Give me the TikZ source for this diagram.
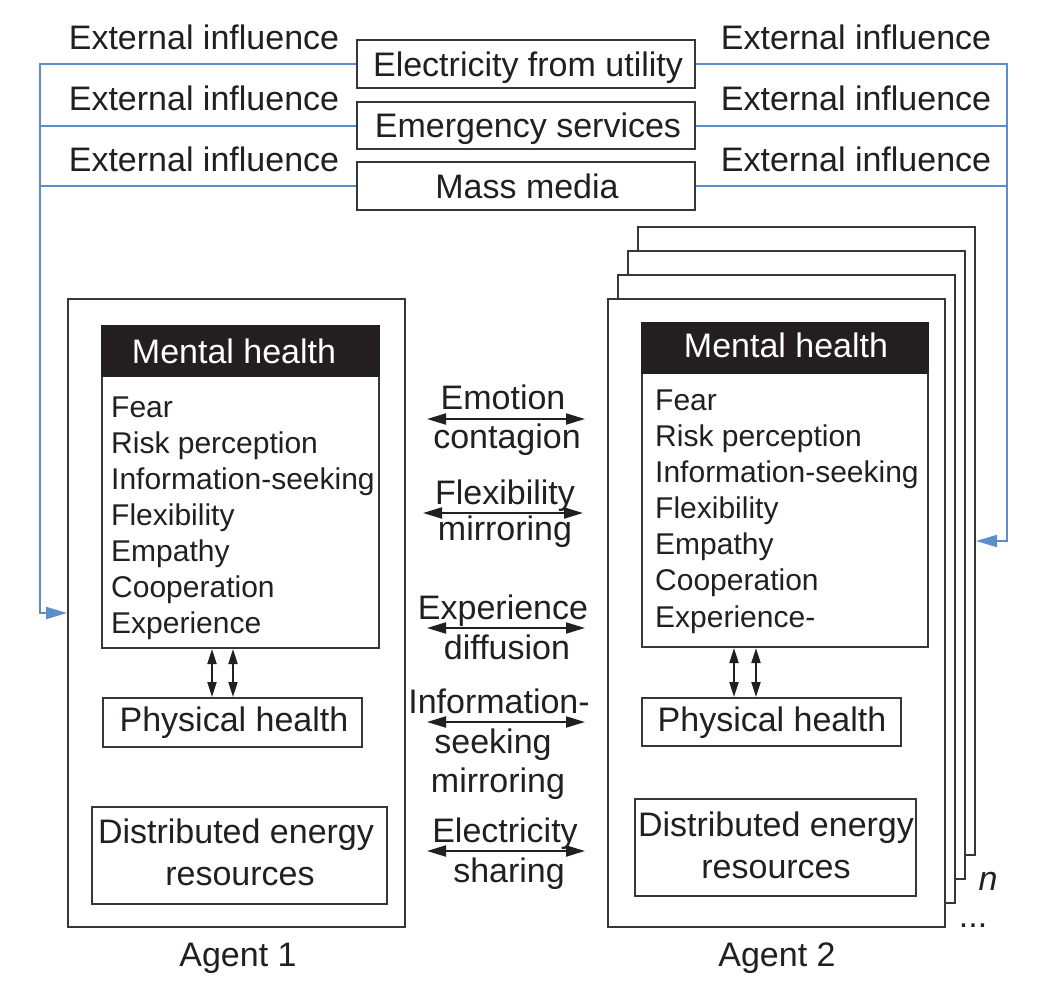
\documentclass[tikz,border=0pt]{standalone}
\usepackage{fontspec}
\setmainfont{Liberation Sans}
\usetikzlibrary{arrows.meta,calc}
\definecolor{ink}{RGB}{35,31,32}
\definecolor{edge}{RGB}{55,55,55}
\definecolor{flow}{RGB}{92,142,204}
\begin{document}
\begin{tikzpicture}[x=1pt,y=-1pt,
  bx/.style n args={2}{draw=edge,line width=2pt,fill=white,inner sep=0pt,minimum width=#1,minimum height=#2},
  hdr/.style n args={2}{draw=ink,fill=ink,line width=2pt,inner sep=0pt,minimum width=#1,minimum height=#2},
  lab/.style={font=\fontsize{34}{40}\selectfont,text=ink,inner sep=0pt,anchor=base},
  itm/.style={font=\fontsize{30}{36}\selectfont,text=ink,inner sep=0pt,anchor=base west},
  flowline/.style={draw=flow,line width=2pt},
  flowarrow/.style={flowline,-{Triangle[length=21pt,width=12pt]}},
  harrow/.style={draw=ink,line width=2pt,{Triangle[length=19pt,width=11pt]}-{Triangle[length=19pt,width=11pt]}},
  varrow/.style={draw=ink,line width=2pt,{Triangle[length=15pt,width=9pt]}-{Triangle[length=15pt,width=9pt]}}]
\useasboundingbox (0,0) rectangle (1040,993);

% top boxes
\node[bx={338}{48}] (t1) at (526,64) {};
\node[bx={338}{47}] (t2) at (526,125.5) {};
\node[bx={338}{48}] (t3) at (526,186) {};
\node[lab] (t1x) at (528,76) {Electricity from utility};
\node[lab] (t2x) at (528,137) {Emergency services};
\node[lab] (t3x) at (527,198) {Mass media};

% external influence labels
\node[lab] (el1) at (204,49) {External influence};
\node[lab] (el2) at (204,110) {External influence};
\node[lab] (el3) at (204,171) {External influence};
\node[lab] (er1) at (856,49) {External influence};
\node[lab] (er2) at (856,110) {External influence};
\node[lab] (er3) at (856,171) {External influence};

% agent 1
\node[bx={337}{628}] (a1) at (236.5,613) {};
\node[bx={277}{322}] (m1) at (240.5,487) {};
\node[hdr={277}{50}] (h1) at (240.5,351) {};
\node[lab,text=white] (h1x) at (234,363) {Mental health};
\foreach \t [count=\i] in {Fear,Risk perception,Information-seeking,Flexibility,Empathy,Cooperation,Experience}
  \node[itm] (ia\i) at (111,{417+36*(\i-1)}) {\t};
\node[bx={259}{49}] (p1) at (232.5,722.5) {};
\node[lab] (p1x) at (234,731) {Physical health};
\node[bx={295}{97}] (d1) at (239.5,855.5) {};
\node[lab] (d1x) at (236,843) {Distributed energy};
\node[lab] (d1y) at (240,885) {resources};
\coordinate (v1) at ($(m1.south)+(-28.5,0)$);
\coordinate (v2) at ($(m1.south)+(-7.5,0)$);
\draw[varrow] (v1) -- (v1 |- p1.north);
\draw[varrow] (v2) -- (v2 |- p1.north);
\node[lab] (ag1) at (238,966) {Agent 1};

% agent 2 stack
\node[bx={337}{628}] (s3) at (806.5,541) {};
\node[bx={337}{628}] (s2) at (796.5,565) {};
\node[bx={337}{628}] (s1) at (786.5,589) {};
\node[bx={337}{628}] (a2) at (776.5,613) {};
\node[bx={286}{324}] (m2) at (785,485) {};
\node[hdr={286}{50}] (h2) at (785,348) {};
\node[lab,text=white] (h2x) at (786,357) {Mental health};
\foreach \t [count=\i] in {Fear,Risk perception,Information-seeking,Flexibility,Empathy,Cooperation,Experience-}
  \node[itm] (ib\i) at (655,{410+36.17*(\i-1)}) {\t};
\node[bx={259}{48}] (p2) at (771.5,722) {};
\node[lab] (p2x) at (772,731) {Physical health};
\node[bx={281}{97}] (d2) at (775.5,847.5) {};
\node[lab] (d2x) at (776,836) {Distributed energy};
\node[lab] (d2y) at (776,878) {resources};
\coordinate (w1) at ($(m2.south)+(-51,0)$);
\coordinate (w2) at ($(m2.south)+(-29,0)$);
\draw[varrow] (w1) -- (w1 |- p2.north);
\draw[varrow] (w2) -- (w2 |- p2.north);
\node[lab] (ag2) at (777,966) {Agent 2};
\node[lab,font=\fontsize{34}{40}\selectfont\itshape] (nn) at (988,890) {n};
\node[lab] (dots) at (973,927) {...};

% interaction arrows
\coordinate (e1l) at (427,419); \coordinate (e1r) at (585,419);
\coordinate (e2l) at (423,513); \coordinate (e2r) at (583,513);
\coordinate (e3l) at (427,628); \coordinate (e3r) at (585,628);
\coordinate (e4l) at (427,722); \coordinate (e4r) at (585,722);
\coordinate (e5l) at (427,851); \coordinate (e5r) at (585,851);
\draw[harrow] (e1l) -- (e1r);
\draw[harrow] (e2l) -- (e2r);
\draw[harrow] (e3l) -- (e3r);
\draw[harrow] (e4l) -- (e4r);
\draw[harrow] (e5l) -- (e5r);
\node[lab] (c1a) at (503,409) {Emotion};
\node[lab] (c1b) at (507,448) {contagion};
\node[lab] (c2a) at (505,504) {Flexibility};
\node[lab] (c2b) at (505,540) {mirroring};
\node[lab] (c3a) at (503,619) {Experience};
\node[lab] (c3b) at (507,659) {diffusion};
\node[lab] (c4a) at (499,713) {Information-};
\node[lab] (c4b) at (493,753) {seeking};
\node[lab] (c4c) at (498,792) {mirroring};
\node[lab] (c5a) at (505,842) {Electricity};
\node[lab] (c5b) at (509,882) {sharing};

% external influence connectors
\coordinate (lx) at (40,0);
\coordinate (rx) at (1007,0);
\draw[flowarrow] (t1.west) -| (lx |- a1.west) -- (a1.west);
\draw[flowline] (t2.west) -- (t2.west -| lx);
\draw[flowline] (t3.west) -- (t3.west -| lx);
\draw[flowarrow] (t1.east) -| (rx |- s3.east) -- (s3.east);
\draw[flowline] (t2.east) -- (t2.east -| rx);
\draw[flowline] (t3.east) -- (t3.east -| rx);
\end{tikzpicture}
\end{document}
